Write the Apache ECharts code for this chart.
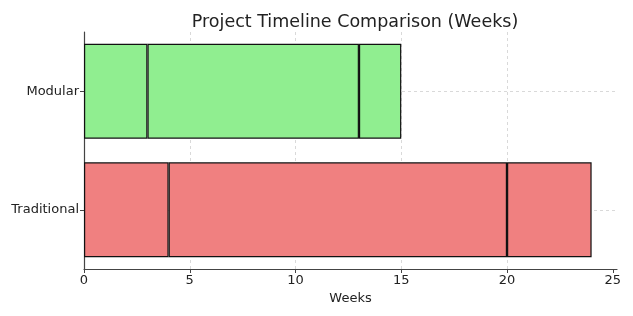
<!DOCTYPE html>
<html>
<head>
<meta charset="utf-8">
<script src="https://cdn.jsdelivr.net/npm/echarts@6/dist/echarts.min.js"></script>
<style>
  html, body { margin: 0; padding: 0; background: #fff; }
  #chart { width: 633px; height: 316px; }
</style>
</head>
<body>
<div id="chart"></div>
<script>
var projects = ['Traditional', 'Modular'];
var phaseA = [4, 3];
var phaseB = [16, 10];
var phaseC = [4, 2];
var barColors = ['#F08080', '#90EE90'];
var weekTicks = [0, 5, 10, 15, 20, 25];

var chartDom = document.getElementById('chart');
var myChart = echarts.init(chartDom);
var font = 'DejaVu Sans';
var gridLine = { color: '#d0d0d0', type: [3, 3], width: 0.8 };

function phase(name, values) {
    return {
        name: name,
        type: 'bar',
        stack: 'time',
        barWidth: '80%',
        z: 2,
        data: values.map(function (v, i) {
            return { value: v, itemStyle: { color: barColors[i] } };
        }),
        itemStyle: { borderColor: '#111', borderWidth: 1.2 },
        emphasis: { disabled: true }
    };
}

var first = phase('Phase 1', phaseA);
// horizontal grid lines through the category centres
first.markLine = {
    silent: true, symbol: 'none', z: 1,
    label: { show: false },
    lineStyle: gridLine,
    data: projects.map(function (p) { return { yAxis: p }; })
};

var option = {
    animation: false,
    backgroundColor: '#fff',
    title: {
        text: 'Project Timeline Comparison (Weeks)',
        left: 350, textAlign: 'center', top: 8,
        textStyle: { fontFamily: font, fontSize: 17.5, fontWeight: 'normal', color: '#222' }
    },
    grid: { left: 84, right: 16, top: 32, bottom: 47 },
    xAxis: {
        type: 'value', min: 0, max: 25.2, interval: 5,
        name: 'Weeks', nameLocation: 'middle', nameGap: 21,
        nameTextStyle: { fontFamily: font, fontSize: 13, color: '#222' },
        axisLine: { show: true, onZero: false, lineStyle: { color: '#444', width: 1.2 } },
        axisTick: { show: true, customValues: weekTicks, length: 4, lineStyle: { color: '#444' } },
        axisLabel: { customValues: weekTicks, fontFamily: font, fontSize: 13, color: '#222', margin: 5 },
        splitLine: { show: true, showMinLine: false, showMaxLine: false, lineStyle: gridLine }
    },
    yAxis: {
        type: 'category', data: projects,
        axisLine: { show: true, lineStyle: { color: '#444', width: 1.2 } },
        axisTick: { show: true, alignWithLabel: true, length: 4, lineStyle: { color: '#444' } },
        axisLabel: { fontFamily: font, fontSize: 13, color: '#222', margin: 5 },
        splitLine: { show: false }
    },
    series: [
        first,
        phase('Phase 2', phaseB),
        phase('Phase 3', phaseC)
    ]
};
option && myChart.setOption(option);
</script>
</body>
</html>
